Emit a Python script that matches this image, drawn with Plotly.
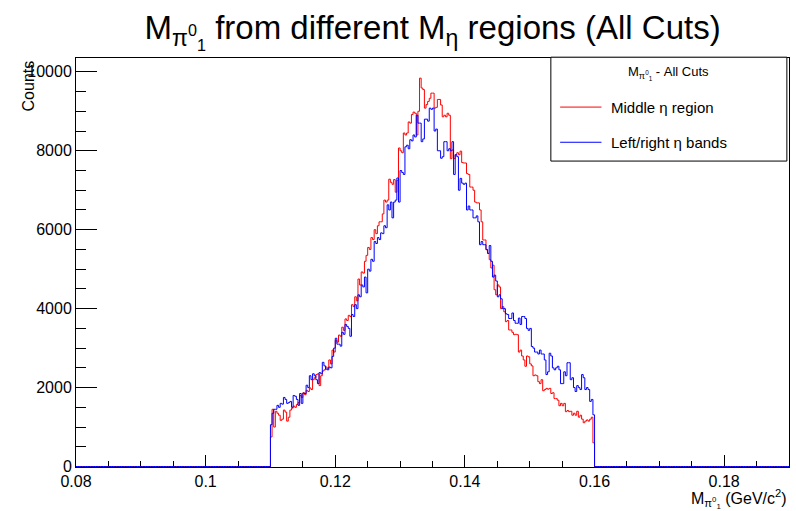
import plotly.graph_objects as go

# ---- data -------------------------------------------------------------
hist_lo = 0.08          # histogram axis range (ROOT frame)
hist_hi = 0.19
bin_width = 0.00025
data_lo = 0.11          # first filled bin edge

middle_eta = [
    750, 1450, 1000, 1400,   1350, 1300, 1170, 1200,   1430, 1380, 1150, 1250,
    1430, 1480, 1530, 1500,  1570, 1620, 1800, 1750,   1870, 1820, 1930, 1900,
    1990, 1950, 2200, 2250,  2330, 2350, 2050, 2300,   2420, 2450, 2520, 2480,
    2700, 2600, 2950, 2900,  3200, 3150, 3330, 3300,   3530, 3450, 3740, 3700,
    3830, 3800, 4100, 4050,  4300, 4200, 4750, 4600,   4930, 4900, 5200, 5350,
    5550, 5500, 5800, 5750,  6000, 5900, 6100, 6200,   6200, 6400, 6750, 6700,
    6750, 7280, 7200, 7150,  7270, 6950, 7250, 8070,   8000, 7950, 8450, 8400,
    8450, 8730, 8700, 8920,  8980, 8950, 8400, 9000,   9840, 9590, 9550, 9080,
    9170, 9250, 9330, 9460,  9460, 9080, 9100, 9300,   9300, 9160, 8860, 8900,
    8860, 8950, 8900, 7800,  8020, 7800, 7900, 7950,   7900, 7990, 7700, 7690,
    7690, 7420, 7400, 7080,  7080, 7000, 6700, 6680,   6680, 6500, 6200, 5740,
    5740, 5490, 5400, 5240,  5030, 5100, 4480, 4350,   4600, 4550, 4000, 4050,
    3920, 3670, 3700, 3460,  3460, 3400, 3340, 3350,   3340, 2900, 2950, 2800,
    2700, 2540, 2800, 2780,  2600, 2550, 2300, 2320,   2300, 2150, 2100, 2200,
    1920, 1950, 1980, 1960,  1980, 1850, 1870, 1720,   1720, 1680, 1540, 1600,
    1540, 1600, 1390, 1420,  1390, 1400, 1300, 1350,   1300, 1400, 1250, 1300,
    1200, 1110, 1150, 1180,  1150, 1200, 1250, 600,
]

side_bands = [
    1060, 1350, 1450, 1450,  1550, 1500, 1600, 1580,   1750, 1700, 1600, 1620,
    1650, 1500, 1800, 1780,  1700, 1550, 1850, 1600,   1860, 1850, 2060, 2000,
    2300, 2200, 2350, 2300,  2200, 2100, 2380, 2350,   2640, 2550, 2470, 2450,
    2520, 2500, 2790, 3000,  3250, 3100, 3100, 3050,   3400, 3350, 3600, 3550,
    3500, 3300, 3850, 3800,  4100, 4000, 4350, 4300,   4600, 4550, 4800, 4400,
    5000, 4950, 5250, 5200,  5700, 5650, 5800, 5750,   5920, 5900, 6100, 6050,
    6630, 6500, 6700, 6300,  6700, 6750, 7310, 6700,   7500, 7450, 7400, 8100,
    8140, 8050, 8280, 8250,  8400, 8350, 8900, 8700,   8700, 8230, 8300, 8800,
    8800, 8750, 9080, 9050,  9080, 8500, 8550, 8000,   8000, 7810, 7850, 8230,
    8230, 8000, 8050, 8000,  8230, 7400, 7900, 7850,   7000, 7300, 7180, 7150,
    7180, 6500, 6600, 6500,  6500, 6300, 6300, 6350,   6200, 5620, 5700, 5620,
    5620, 5500, 5400, 5600,  5200, 4800, 4850, 4700,   4300, 4350, 4250, 4000,
    4000, 3870, 3850, 3750,  3750, 3890, 3700, 3630,   3630, 3760, 3600, 3800,
    3800, 3750, 3500, 3450,  3500, 3040, 3000, 2900,   2900, 2850, 2950, 2850,
    2850, 2700, 2330, 2400,  2870, 2800, 2500, 2450,   2500, 2540, 2450, 2100,
    2100, 2400, 2300, 2630,  2630, 2200, 2250, 2000,   1900, 2050, 2000, 1950,
    2330, 2250, 1950, 2000,  1950, 1650, 1700, 1310,
]

x_tick_vals = [0.08, 0.10, 0.12, 0.14, 0.16, 0.18]
x_tick_text = ["0.08", "0.1", "0.12", "0.14", "0.16", "0.18"]
y_tick_vals = [0, 2000, 4000, 6000, 8000, 10000]
y_tick_text = ["0", "2000", "4000", "6000", "8000", "10000"]
y_max = 10350

series_names = ["Middle \u03b7 region", "Left/right \u03b7 bands"]
series_colors = ["#ff0000", "#0000ff"]

# ---- build step outlines over full histogram range ---------------------
n_total = int(round((hist_hi - hist_lo) / bin_width))
offset = int(round((data_lo - hist_lo) / bin_width))


def full_counts(vals):
    c = [0] * n_total
    for i, v in enumerate(vals):
        c[offset + i] = v
    return c


edges = [hist_lo + i * bin_width for i in range(n_total + 1)]

FONT = "Liberation Sans, Arial, Helvetica, sans-serif"
fig = go.Figure()
for vals, name, col in zip([middle_eta, side_bands], series_names, series_colors):
    c = full_counts(vals)
    fig.add_trace(go.Scatter(
        x=edges, y=c + [c[-1]], mode="lines", line=dict(color=col, width=1, shape="hv"),
        name=name, showlegend=False, hoverinfo="skip"))

M_pi = "M<sub>\u03c0<sup>0</sup><sub>1</sub></sub>"

fig.update_layout(
    width=796, height=511,
    margin=dict(l=76, r=7, t=58, b=44),
    paper_bgcolor="white", plot_bgcolor="white",
    font=dict(family=FONT, size=16, color="black"),
    title=dict(text=M_pi + " from different M<sub>\u03b7</sub> regions (All Cuts)",
               x=0.5435, xanchor="center", y=0.946, yanchor="middle",
               font=dict(size=33, family=FONT, color="black")),
    xaxis=dict(range=[hist_lo, hist_hi], tickvals=x_tick_vals, ticktext=x_tick_text,
               ticks="inside", ticklen=12, tickcolor="black", showgrid=False, zeroline=False,
               showline=True, linecolor="black", linewidth=1, mirror=True,
               layer="below traces",
               minor=dict(dtick=0.005, tick0=0.08, ticks="inside", ticklen=6, tickcolor="black"),
               tickfont=dict(size=16)),
    yaxis=dict(range=[-12, y_max], tickvals=y_tick_vals, ticktext=y_tick_text,
               ticks="inside", ticklen=21, tickcolor="black", showgrid=False, zeroline=False,
               showline=True, linecolor="black", linewidth=1, mirror=True,
               layer="below traces",
               minor=dict(dtick=500, tick0=0, ticks="inside", ticklen=10, tickcolor="black"),
               tickfont=dict(size=16)),
)

# axis titles (ROOT places them at the axis ends)
fig.add_annotation(text="Counts", xref="paper", yref="paper", x=-0.066, y=1.0,
                   xanchor="center", yanchor="top", textangle=-90, showarrow=False,
                   font=dict(size=16))
fig.add_annotation(text=M_pi + " (GeV/c<sup>2</sup>)", xref="paper", yref="paper",
                   x=1.0, y=-0.078, xanchor="right", yanchor="middle", showarrow=False,
                   font=dict(size=16))

# legend box
lx0, lx1, ly0, ly1 = 0.666, 0.997, 0.748, 1.002
fig.add_shape(type="rect", xref="paper", yref="paper", x0=lx0, x1=lx1, y0=ly0, y1=ly1,
              line=dict(color="black", width=1), fillcolor="white", layer="above")
fig.add_annotation(text=M_pi + " - All Cuts", xref="paper", yref="paper",
                   x=(lx0 + lx1) / 2, y=0.963, xanchor="center", yanchor="middle",
                   showarrow=False, font=dict(size=13))
for k, (name, col) in enumerate(zip(series_names, series_colors)):
    yy = [0.880, 0.794][k]
    fig.add_shape(type="line", xref="paper", yref="paper", x0=0.679, x1=0.737, y0=yy, y1=yy,
                  line=dict(color=col, width=1), layer="above")
    fig.add_annotation(text=name, xref="paper", yref="paper", x=0.748, y=yy,
                       xanchor="left", yanchor="middle", showarrow=False, font=dict(size=15))

fig.write_html("out.html")
